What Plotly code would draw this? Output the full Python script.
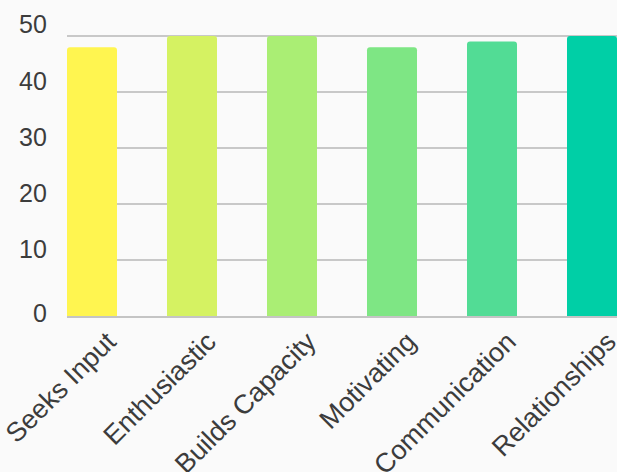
import plotly.graph_objects as go

categories = ["Seeks Input", "Enthusiastic", "Builds Capacity", "Motivating", "Communication", "Relationships"]
values = [48, 50, 50, 48, 49, 50]
bar_colors = ["#FFF550", "#D5F262", "#AAEE74", "#7EE684", "#52DC95", "#00CFA6"]
y_ticks = [0, 10, 20, 30, 40, 50]
y_tick_labels = ["0", "10", "20", "30", "40", "50"]

FONT = "Liberation Sans, Arial, sans-serif"
TEXT = "#3c3c3c"

fig = go.Figure(
    go.Bar(
        x=categories,
        y=values,
        marker=dict(color=bar_colors, line=dict(width=0), cornerradius=3),
        width=0.5,
    )
)

annotations = []
for v, lab in zip(y_ticks, y_tick_labels):
    annotations.append(dict(
        x=0, xref="paper", y=v, yref="y",
        text=lab, showarrow=False,
        xanchor="right", yanchor="middle",
        xshift=-18, yshift=(3 if v == 0 else (12 if v == 50 else 11)),
        font=dict(family=FONT, size=25, color=TEXT),
    ))

fig.update_layout(
    width=617, height=472,
    margin=dict(l=67, r=0, t=34, b=156, pad=0, autoexpand=False),
    paper_bgcolor="#fafafa", plot_bgcolor="#fafafa",
    showlegend=False,
    annotations=annotations,
    font=dict(family=FONT, size=25, color=TEXT),
    xaxis=dict(
        range=[-0.25, 5.25],
        tickangle=-45,
        automargin=False,
        showgrid=False,
        showline=True, linecolor="#c4c4c4", linewidth=2,
        ticks="", tickfont=dict(family=FONT, size=27, color=TEXT),
        ticklabelshift=16,
        ticklabelstandoff=-3,
        fixedrange=True,
    ),
    yaxis=dict(
        range=[0, 50.36],
        automargin=False,
        tickvals=y_ticks,
        showticklabels=False,
        showgrid=True, gridcolor="#c8c8c8", gridwidth=1.5,
        zeroline=False,
        showline=False, ticks="",
        fixedrange=True,
    ),
)

fig.write_html(
    "out.html",
    config={"displayModeBar": False},
    post_script="document.body.style.margin='0';document.body.style.overflow='hidden';document.body.style.background='#fafafa';",
)
